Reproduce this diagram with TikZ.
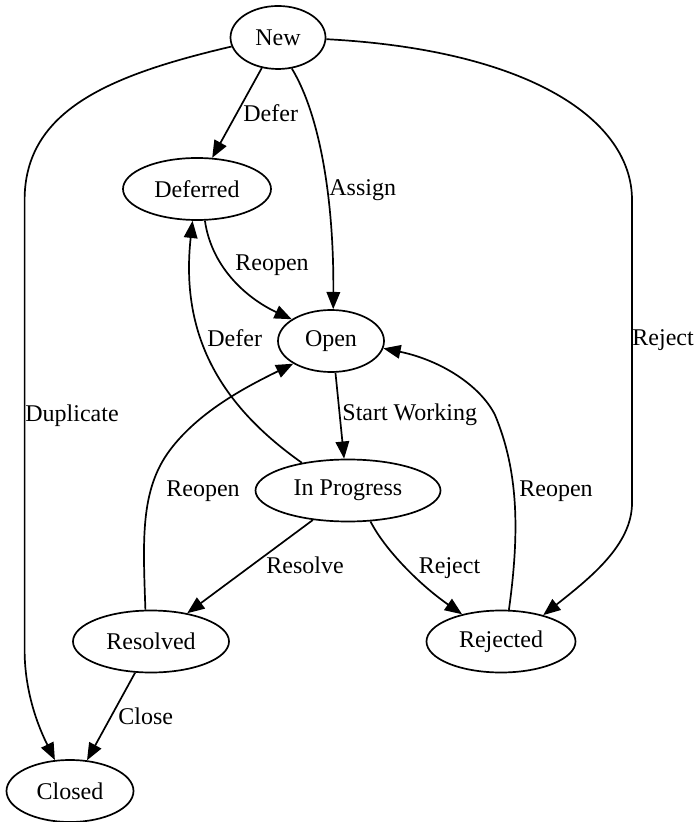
\documentclass[tikz,border=0pt]{standalone}
\usepackage{fontspec}
\setmainfont{Liberation Serif}
\usetikzlibrary{shapes.geometric,arrows.meta}
\begin{document}
\begin{tikzpicture}[x=0.5pt,y=-0.5pt,
  state/.style={ellipse,draw,line width=0.85pt,inner sep=0pt,minimum height=31pt,font=\fontsize{12}{14}\selectfont},
  edge/.style={line width=0.85pt,-{Triangle[length=8.6pt,width=6.8pt]}},
  lbl/.style={anchor=base west,inner sep=0pt,font=\fontsize{12}{14}\selectfont}]
\useasboundingbox (0,0) rectangle (696,822);
% states
\node[state,minimum width=47.5pt,minimum height=31.5pt] (new) at (278,37.5) {New};
\node[state,minimum width=74pt] (deferred) at (197,189) {Deferred};
\node[state,minimum width=53pt] (open) at (331,341) {Open};
\node[state,minimum width=92.5pt] (inprog) at (348,490.5) {In Progress};
\node[state,minimum width=78pt] (resolved) at (151,641.5) {Resolved};
\node[state,minimum width=74.5pt] (rejected) at (501,641.5) {Rejected};
\node[state,minimum width=63.5pt] (closed) at (70,791) {Closed};
% transitions
\draw[edge] (new.242) -- (deferred.64);
\draw[edge] (new.294) .. controls (320,115) and (334,200) .. (open.86);
\draw[edge] (new.191) .. controls (110,75) and (24.6,110) .. (24.6,200) -- (24.6,650) .. controls (24.6,700) and (44,738) .. (closed.116);
\draw[edge] (new.358) .. controls (530,50) and (632,120) .. (632,200) -- (632,503) .. controls (632,545) and (590,578) .. (rejected.32);
\draw[edge] (deferred.284) .. controls (212,270) and (250,300) .. (open.151);
\draw[edge] (inprog.149) .. controls (220,405) and (180,335) .. (deferred.262);
\draw[edge] (open.278) -- (inprog.97);
\draw[edge] (resolved.100) .. controls (143,540) and (140,490) .. (170,450) .. controls (200,410) and (250,385) .. (open.211);
\draw[edge] (inprog.220) -- (resolved.38);
\draw[edge] (inprog.306) .. controls (385,550) and (420,585) .. (rejected.145);
\draw[edge] (rejected.76) .. controls (520,530) and (518,470) .. (495,415) .. controls (480,385) and (440,360) .. (open.352);
\draw[edge] (resolved.243) -- (closed.61);
% labels
\node[lbl] (l1) at (243,122) {Defer};
\node[lbl] (l2) at (329,196) {Assign};
\node[lbl] (l3) at (25,422) {Duplicate};
\node[lbl] (l4) at (632,346) {Reject};
\node[lbl] (l5) at (235,271) {Reopen};
\node[lbl] (l6) at (207,347) {Defer};
\node[lbl] (l7) at (342,421) {Start Working};
\node[lbl] (l8) at (166,496) {Reopen};
\node[lbl] (l9) at (266,573) {Resolve};
\node[lbl] (l10) at (418.5,573) {Reject};
\node[lbl] (l11) at (519,496) {Reopen};
\node[lbl] (l12) at (118,724) {Close};
\end{tikzpicture}
\end{document}
